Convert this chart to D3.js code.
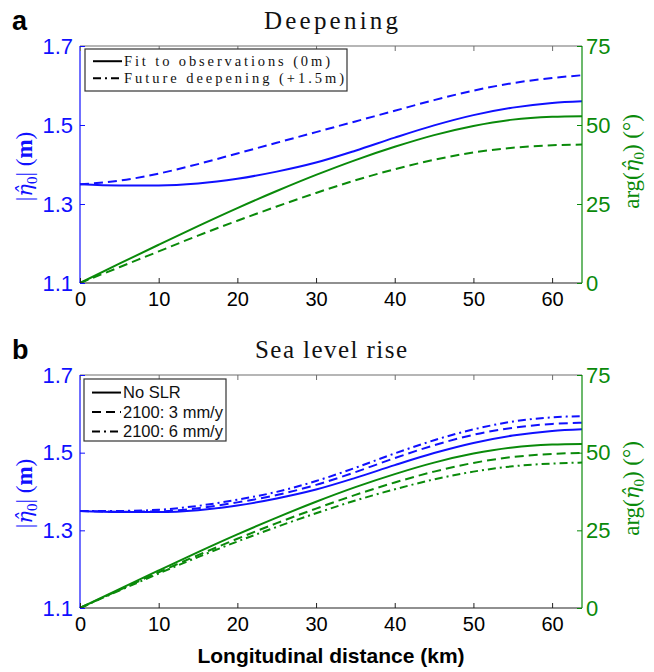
<!DOCTYPE html>
<html>
<head>
<meta charset="utf-8">
<script src="https://cdn.jsdelivr.net/npm/d3@7"></script>
<style>
  html, body { margin: 0; padding: 0; background: #fff; }
  svg { display: block; }
</style>
</head>
<body>
<svg id="chart" width="654" height="672"></svg>
<script>
// Along-channel distance (km) at which the tidal solutions are sampled
const distanceKm = [0, 5, 10, 15, 20, 25, 30, 35, 40, 45, 50, 55, 60, 63.8];

// Amplitude |eta0| (m)
const ampObs   = [1.350, 1.347, 1.347, 1.352, 1.364, 1.382, 1.405, 1.435, 1.468, 1.499, 1.525, 1.544, 1.556, 1.560];
const ampDeep  = [1.350, 1.359, 1.377, 1.401, 1.428, 1.455, 1.482, 1.509, 1.536, 1.563, 1.587, 1.606, 1.619, 1.626];
const ampSlr3  = [1.350, 1.348, 1.349, 1.357, 1.372, 1.391, 1.417, 1.450, 1.486, 1.519, 1.546, 1.564, 1.574, 1.577];
const ampSlr6  = [1.350, 1.350, 1.353, 1.363, 1.379, 1.399, 1.427, 1.461, 1.498, 1.532, 1.560, 1.580, 1.591, 1.594];

// Phase arg(eta0) (degrees)
const phaseObs  = [0, 6.1, 12.1, 18.0, 23.7, 29.1, 34.2, 38.9, 43.1, 46.8, 49.7, 51.7, 52.6, 52.8];
const phaseDeep = [0, 5.0, 10.0, 15.0, 19.7, 24.2, 28.5, 32.5, 36.0, 39.0, 41.3, 42.8, 43.6, 43.8];
const phaseSlr3 = [0, 5.8, 11.5, 17.0, 22.3, 27.3, 32.0, 36.4, 40.4, 43.9, 46.7, 48.6, 49.6, 49.9];
const phaseSlr6 = [0, 5.6, 11.1, 16.4, 21.4, 26.1, 30.5, 34.6, 38.2, 41.4, 43.9, 45.6, 46.5, 46.8];

// Axis ticks
const xTicks = [0, 10, 20, 30, 40, 50, 60];
const ampTicks = [1.1, 1.3, 1.5, 1.7];
const phaseTicks = [0, 25, 50, 75];

const BLUE = "#1010ff";
const GREEN = "#0a8a0a";
const DASH = "9,5";
const DASHDOT = "8,4,2,4";

const svg = d3.select("#chart");
const sans = "'Liberation Sans', Arial, Helvetica, sans-serif";
const serif = "'Liberation Serif', 'DejaVu Serif', serif";
const greek = "'DejaVu Serif', serif";

const x = d3.scaleLinear().domain([0, 63.8]).range([80, 582]);

// |eta-hat_0| style label built from tspans
function etaLabel(text, prefix, suffix, boldUnit) {
  text.append("tspan").text(prefix);
  text.append("tspan").attr("font-family", greek).attr("font-style", "italic").attr("font-size", 21).text("η\u0302");
  text.append("tspan").attr("font-size", 15).attr("dy", 5).text("0");
  text.append("tspan").attr("dy", -5).text(suffix);
  if (boldUnit) {
    text.append("tspan").attr("font-weight", "bold").text(boldUnit);
    text.append("tspan").text(")");
  }
}

function drawPanel(cfg) {
  const { top, bottom, title, letter, series, legend } = cfg;
  const yAmp = d3.scaleLinear().domain([1.1, 1.7]).range([bottom, top]);
  const yPh = d3.scaleLinear().domain([0, 75]).range([bottom, top]);
  const g = svg.append("g");

  // curves
  const lineAmp = d3.line().x((d, i) => x(distanceKm[i])).y(d => yAmp(d)).curve(d3.curveMonotoneX);
  const linePh = d3.line().x((d, i) => x(distanceKm[i])).y(d => yPh(d)).curve(d3.curveMonotoneX);
  series.forEach(s => {
    g.append("path")
      .attr("d", s.axis === "amp" ? lineAmp(s.values) : linePh(s.values))
      .attr("fill", "none")
      .attr("stroke", s.color)
      .attr("stroke-width", 2)
      .attr("stroke-dasharray", s.dash || null);
  });

  // frame
  g.append("line").attr("x1", x.range()[0]).attr("x2", x.range()[1]).attr("y1", top).attr("y2", top)
    .attr("stroke", "#6e6e6e").attr("stroke-width", 1.2);
  g.append("line").attr("x1", x.range()[0]).attr("x2", x.range()[1]).attr("y1", bottom).attr("y2", bottom)
    .attr("stroke", "#222").attr("stroke-width", 1.2);
  g.append("line").attr("x1", x.range()[0]).attr("x2", x.range()[0]).attr("y1", top).attr("y2", bottom)
    .attr("stroke", BLUE).attr("stroke-width", 1.2);
  g.append("line").attr("x1", x.range()[1]).attr("x2", x.range()[1]).attr("y1", top).attr("y2", bottom)
    .attr("stroke", GREEN).attr("stroke-width", 1.2);

  // bottom axis
  const ax = g.append("g").attr("transform", `translate(0,${bottom})`)
    .call(d3.axisBottom(x).tickValues(xTicks).tickSize(-5).tickPadding(9).tickFormat(d3.format("d")));
  ax.select(".domain").remove();
  ax.selectAll("line").attr("stroke", "#222");
  ax.selectAll("text").attr("font-family", sans).attr("font-size", 20).attr("fill", "#000");

  // top ticks
  const axT = g.append("g").attr("transform", `translate(0,${top})`)
    .call(d3.axisTop(x).tickValues(xTicks).tickSize(-5).tickFormat(""));
  axT.select(".domain").remove();
  axT.selectAll("line").attr("stroke", "#6e6e6e");

  // left amplitude axis
  const al = g.append("g").attr("transform", `translate(${x.range()[0]},0)`)
    .call(d3.axisLeft(yAmp).tickValues(ampTicks).tickSize(-5).tickPadding(7).tickFormat(d3.format(".1f")));
  al.select(".domain").remove();
  al.selectAll("line").attr("stroke", BLUE);
  al.selectAll("text").attr("font-family", sans).attr("font-size", 22).attr("fill", BLUE);

  // right phase axis
  const ar = g.append("g").attr("transform", `translate(${x.range()[1]},0)`)
    .call(d3.axisRight(yPh).tickValues(phaseTicks).tickSize(-5).tickPadding(4).tickFormat(d3.format("d")));
  ar.select(".domain").remove();
  ar.selectAll("line").attr("stroke", GREEN);
  ar.selectAll("text").attr("font-family", sans).attr("font-size", 22).attr("fill", GREEN);

  const midY = (top + bottom) / 2;

  // left axis title: |eta0| (m)
  const lt = g.append("text")
    .attr("transform", `translate(32,${midY + 2}) rotate(-90)`)
    .attr("text-anchor", "middle")
    .attr("font-family", serif).attr("font-size", 23).attr("fill", BLUE);
  etaLabel(lt, "|", "|  (", "m");

  // right axis title: arg(eta0) (deg)
  const rt = g.append("text")
    .attr("transform", `translate(639,${midY - 3}) rotate(-90)`)
    .attr("text-anchor", "middle")
    .attr("font-family", serif).attr("font-size", 23).attr("fill", GREEN);
  etaLabel(rt, "arg(", ") (°)", null);

  // panel title
  g.append("text")
    .attr("x", (x.range()[0] + x.range()[1]) / 2).attr("y", top - 17)
    .attr("text-anchor", "middle")
    .attr("font-family", serif).attr("font-size", 25).attr("fill", "#111")
    .attr("textLength", title.width).attr("lengthAdjust", "spacing")
    .text(title.text);

  // panel letter
  g.append("text")
    .attr("x", 12).attr("y", top - 16)
    .attr("font-family", sans).attr("font-weight", "bold").attr("font-size", 27).attr("fill", "#000")
    .text(letter);

  // legend
  const lg = g.append("g");
  lg.append("rect")
    .attr("x", legend.x).attr("y", legend.y)
    .attr("width", legend.w).attr("height", legend.h)
    .attr("fill", "#fff").attr("stroke", "#333").attr("stroke-width", 1.2);
  legend.items.forEach((it, i) => {
    const yy = legend.y + legend.first + i * legend.step;
    lg.append("line")
      .attr("x1", legend.x + 8).attr("x2", legend.x + 37)
      .attr("y1", yy - legend.fs * 0.33).attr("y2", yy - legend.fs * 0.33)
      .attr("stroke", "#000").attr("stroke-width", 2)
      .attr("stroke-dasharray", it.dash || null);
    const t = lg.append("text")
      .attr("x", legend.x + 39).attr("y", yy)
      .attr("font-family", legend.font).attr("font-size", legend.fs).attr("fill", "#111")
      .text(it.label);
    if (it.width) t.attr("textLength", it.width).attr("lengthAdjust", "spacing");
  });
}

drawPanel({
  top: 46, bottom: 283,
  letter: "a",
  title: { text: "Deepening", width: 134 },
  series: [
    { axis: "amp", values: ampDeep, color: BLUE, dash: DASH },
    { axis: "amp", values: ampObs, color: BLUE },
    { axis: "ph", values: phaseObs, color: GREEN },
    { axis: "ph", values: phaseDeep, color: GREEN, dash: DASH }
  ],
  legend: {
    x: 85, y: 49, w: 262, h: 42, first: 17, step: 17, fs: 14.5, font: serif,
    items: [
      { label: "Fit to observations (0m)", width: 206 },
      { label: "Future deepening (+1.5m)", dash: DASHDOT, width: 220 }
    ]
  }
});

drawPanel({
  top: 375, bottom: 608,
  letter: "b",
  title: { text: "Sea level rise", width: 152 },
  series: [
    { axis: "amp", values: ampSlr6, color: BLUE, dash: DASHDOT },
    { axis: "amp", values: ampSlr3, color: BLUE, dash: DASH },
    { axis: "amp", values: ampObs, color: BLUE },
    { axis: "ph", values: phaseObs, color: GREEN },
    { axis: "ph", values: phaseSlr3, color: GREEN, dash: DASH },
    { axis: "ph", values: phaseSlr6, color: GREEN, dash: DASHDOT }
  ],
  legend: {
    x: 84, y: 379, w: 142, h: 62, first: 19, step: 19.5, fs: 16.5, font: sans,
    items: [
      { label: "No SLR" },
      { label: "2100: 3 mm/y", dash: DASH },
      { label: "2100: 6 mm/y", dash: DASHDOT }
    ]
  }
});

// shared x-axis title
svg.append("text")
  .attr("x", 331).attr("y", 663)
  .attr("text-anchor", "middle")
  .attr("font-family", sans).attr("font-weight", "bold").attr("font-size", 21).attr("fill", "#000")
  .text("Longitudinal distance (km)");
</script>
</body>
</html>
